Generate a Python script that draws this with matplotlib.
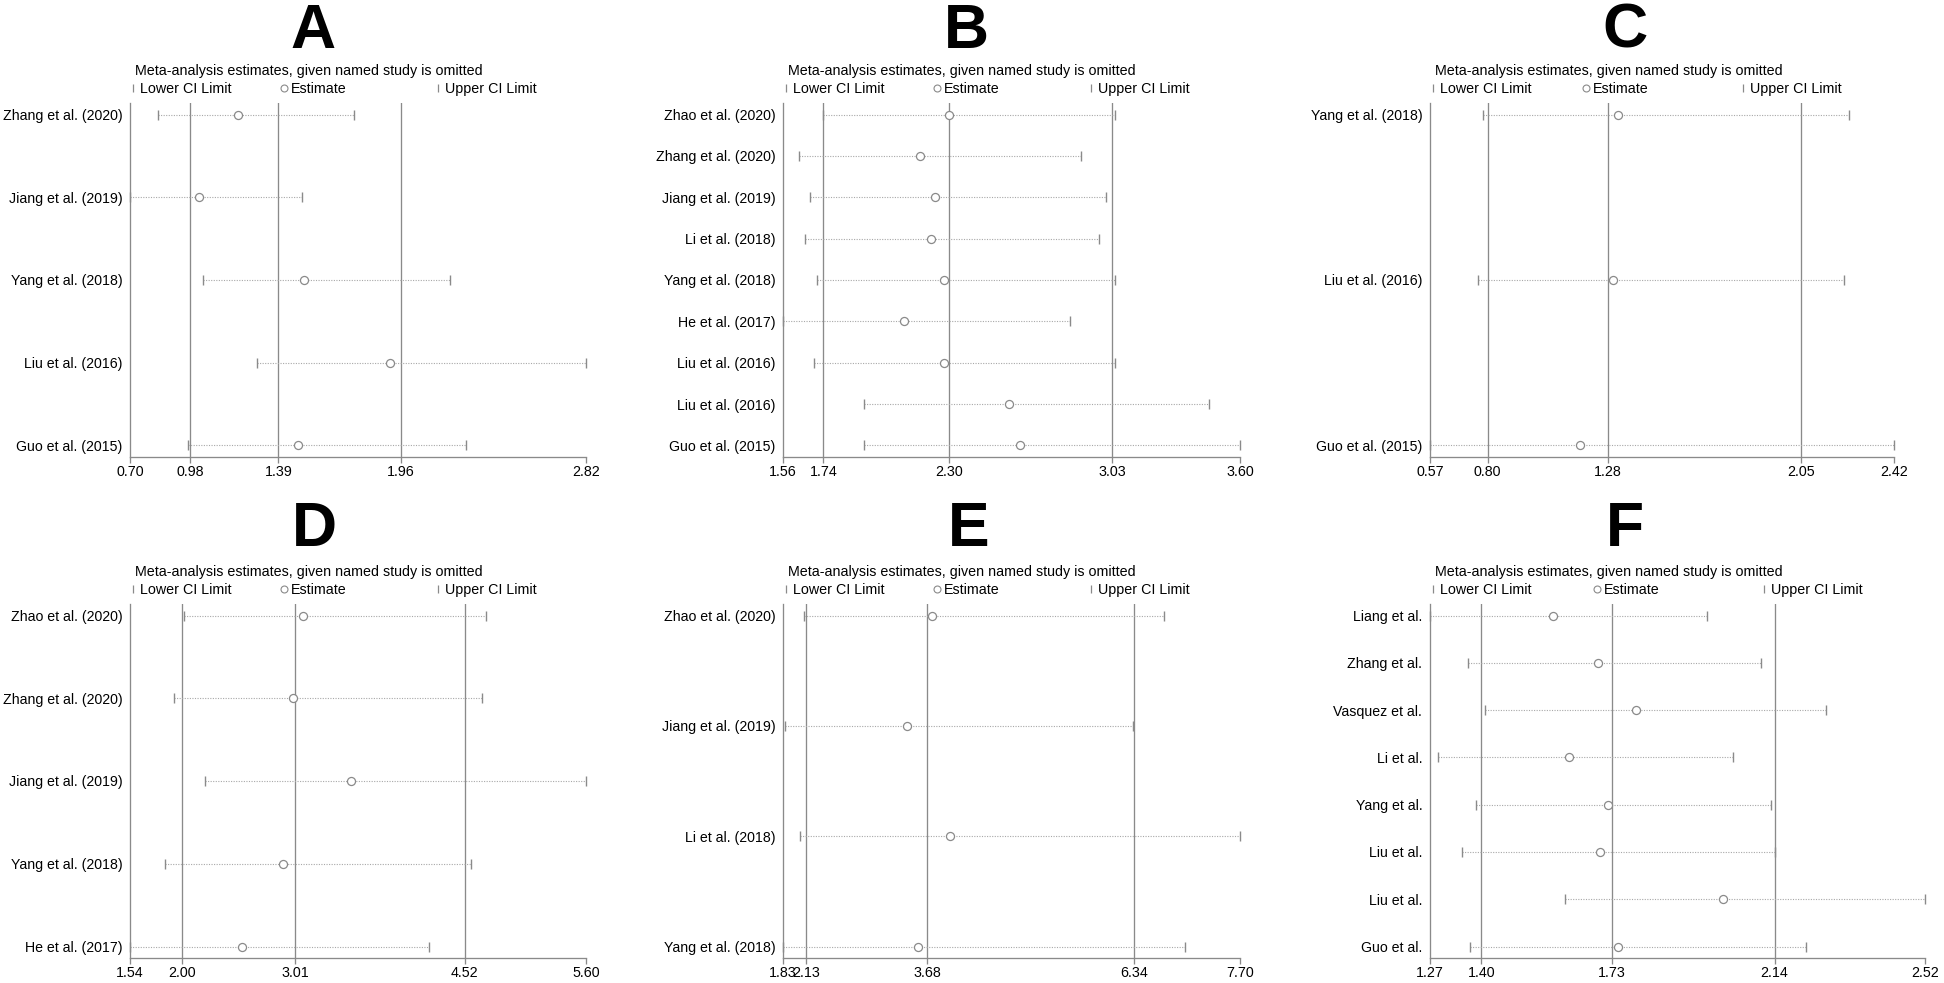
import numpy as np
import matplotlib
matplotlib.use("Agg")
import matplotlib.pyplot as plt
from matplotlib.transforms import offset_copy

plt.rcParams["font.family"] = ["Liberation Sans", "DejaVu Sans"]

# --------------------------------------------------
# Data
# --------------------------------------------------
studies_a = ["Zhang et al. (2020)", "Jiang et al. (2019)", "Yang et al. (2018)",
             "Liu et al. (2016)", "Guo et al. (2015)"]
lower_a = [0.83, 0.70, 1.04, 1.29, 0.97]
est_a = [1.20, 1.02, 1.51, 1.91, 1.48]
upper_a = [1.74, 1.50, 2.19, 2.82, 2.26]
ticks_a = [0.70, 0.98, 1.39, 1.96, 2.82]

studies_b = ["Zhao et al. (2020)", "Zhang et al. (2020)", "Jiang et al. (2019)",
             "Li et al. (2018)", "Yang et al. (2018)", "He et al. (2017)",
             "Liu et al. (2016)", "Liu et al. (2016)", "Guo et al. (2015)"]
lower_b = [1.74, 1.63, 1.68, 1.66, 1.71, 1.56, 1.70, 1.92, 1.92]
est_b = [2.30, 2.17, 2.24, 2.22, 2.28, 2.10, 2.28, 2.57, 2.62]
upper_b = [3.04, 2.89, 3.00, 2.97, 3.04, 2.84, 3.04, 3.46, 3.60]
ticks_b = [1.56, 1.74, 2.30, 3.03, 3.60]

studies_c = ["Yang et al. (2018)", "Liu et al. (2016)", "Guo et al. (2015)"]
lower_c = [0.78, 0.76, 0.57]
est_c = [1.32, 1.30, 1.17]
upper_c = [2.24, 2.22, 2.42]
ticks_c = [0.57, 0.80, 1.28, 2.05, 2.42]

studies_d = ["Zhao et al. (2020)", "Zhang et al. (2020)", "Jiang et al. (2019)",
             "Yang et al. (2018)", "He et al. (2017)"]
lower_d = [2.02, 1.93, 2.21, 1.85, 1.54]
est_d = [3.08, 2.99, 3.51, 2.90, 2.54]
upper_d = [4.71, 4.67, 5.60, 4.58, 4.20]
ticks_d = [1.54, 2.00, 3.01, 4.52, 5.60]

studies_e = ["Zhao et al. (2020)", "Jiang et al. (2019)", "Li et al. (2018)",
             "Yang et al. (2018)"]
lower_e = [2.10, 1.85, 2.05, 1.83]
est_e = [3.75, 3.42, 3.98, 3.57]
upper_e = [6.73, 6.32, 7.70, 6.99]
ticks_e = [1.83, 2.13, 3.68, 6.34, 7.70]

studies_f = ["Liang et al.", "Zhang et al.", "Vasquez et al.", "Li et al.",
             "Yang et al.", "Liu et al.", "Liu et al.", "Guo et al."]
lower_f = [1.27, 1.365, 1.41, 1.29, 1.385, 1.35, 1.61, 1.37]
est_f = [1.58, 1.695, 1.79, 1.62, 1.72, 1.70, 2.01, 1.745]
upper_f = [1.97, 2.105, 2.27, 2.035, 2.13, 2.14, 2.52, 2.22]
ticks_f = [1.27, 1.40, 1.73, 2.14, 2.52]

GRAY = "#8a8a8a"
LIGHT = "#a8a8a8"
W, H = 1944, 983


def draw_panel(fig, rect, letter, title_xy, studies, lower, est, upper, ticks):
    # rect in pixels: left, right, top, bottom
    l, r, t, b = rect
    ax = fig.add_axes([l / W, 1 - b / H, (r - l) / W, (b - t) / H])
    n = len(studies)
    y = np.arange(n)
    pad = 11.5 / 331 * (n - 1)
    ax.set_ylim(n - 1 + pad, -pad)
    ax.set_xlim(ticks[0], ticks[-1])

    for v in ticks[1:-1]:
        ax.axvline(v, color=GRAY, lw=0.95, zorder=1)
    for yi, lo, hi in zip(y, lower, upper):
        ax.plot([lo, hi], [yi, yi], color=LIGHT, lw=0.8, ls=(0, (1, 1.3)), zorder=2)
    ax.plot(lower, y, ls="none", marker="|", ms=7.5, mew=1.0, color=GRAY, clip_on=False, zorder=3)
    ax.plot(upper, y, ls="none", marker="|", ms=7.5, mew=1.0, color=GRAY, clip_on=False, zorder=3)
    ax.plot(est, y, ls="none", marker="o", ms=5.8, mfc="white", mec=GRAY, mew=0.9,
            clip_on=False, zorder=4)

    for s in ["top", "right"]:
        ax.spines[s].set_visible(False)
    for s in ["left", "bottom"]:
        ax.spines[s].set_color(GRAY)
        ax.spines[s].set_linewidth(0.95)

    ax.set_yticks(y)
    ax.set_yticklabels(studies, fontsize=10.2)
    ax.tick_params(axis="y", length=0, pad=5.5)
    ax.set_xticks(ticks)
    ax.set_xticklabels(["%.2f" % v for v in ticks], fontsize=10.3)
    ax.tick_params(axis="x", length=4, width=0.95, color=GRAY, pad=2)

    # legend drawn above the plot area
    tr = lambda dx, dy: offset_copy(ax.transAxes, fig=fig, x=dx, y=dy, units="dots")
    ax.text(0.01, 1, "Meta-analysis estimates, given named study is omitted",
            transform=tr(0, 28), fontsize=10.3, va="baseline")
    for fx, mk, lab in [(0.007, "|", "Lower CI Limit"), (0.337, "o", "Estimate"),
                        (0.675, "|", "Upper CI Limit")]:
        if mk == "|":
            ax.plot([fx], [1], transform=tr(0, 15), marker="|", ms=6, mew=0.9,
                    color=GRAY, clip_on=False)
            ax.text(fx, 1, lab, transform=tr(7, 10), fontsize=10.3, va="baseline")
        else:
            ax.plot([fx], [1], transform=tr(0, 15), marker="o", ms=5, mfc="white",
                    mec=GRAY, mew=0.8, clip_on=False)
            ax.text(fx, 1, lab, transform=tr(7, 10), fontsize=10.3, va="baseline")

    fig.text(title_xy[0] / W, 1 - title_xy[1] / H, letter, fontsize=45,
             fontweight="bold", ha="center", va="baseline")
    return ax


fig = plt.figure(figsize=(W / 100, H / 100), dpi=100)

draw_panel(fig, (130, 586, 103, 457), "A", (313, 48), studies_a, lower_a, est_a, upper_a, ticks_a)
draw_panel(fig, (783, 1240, 103, 457), "B", (966, 48), studies_b, lower_b, est_b, upper_b, ticks_b)
draw_panel(fig, (1430, 1894, 103, 457), "C", (1625, 48), studies_c, lower_c, est_c, upper_c, ticks_c)
draw_panel(fig, (130, 586, 604, 958), "D", (314, 546), studies_d, lower_d, est_d, upper_d, ticks_d)
draw_panel(fig, (783, 1240, 604, 958), "E", (969, 546), studies_e, lower_e, est_e, upper_e, ticks_e)
draw_panel(fig, (1430, 1925, 604, 958), "F", (1625, 546), studies_f, lower_f, est_f, upper_f, ticks_f)

fig.savefig("out.png", dpi=100)
